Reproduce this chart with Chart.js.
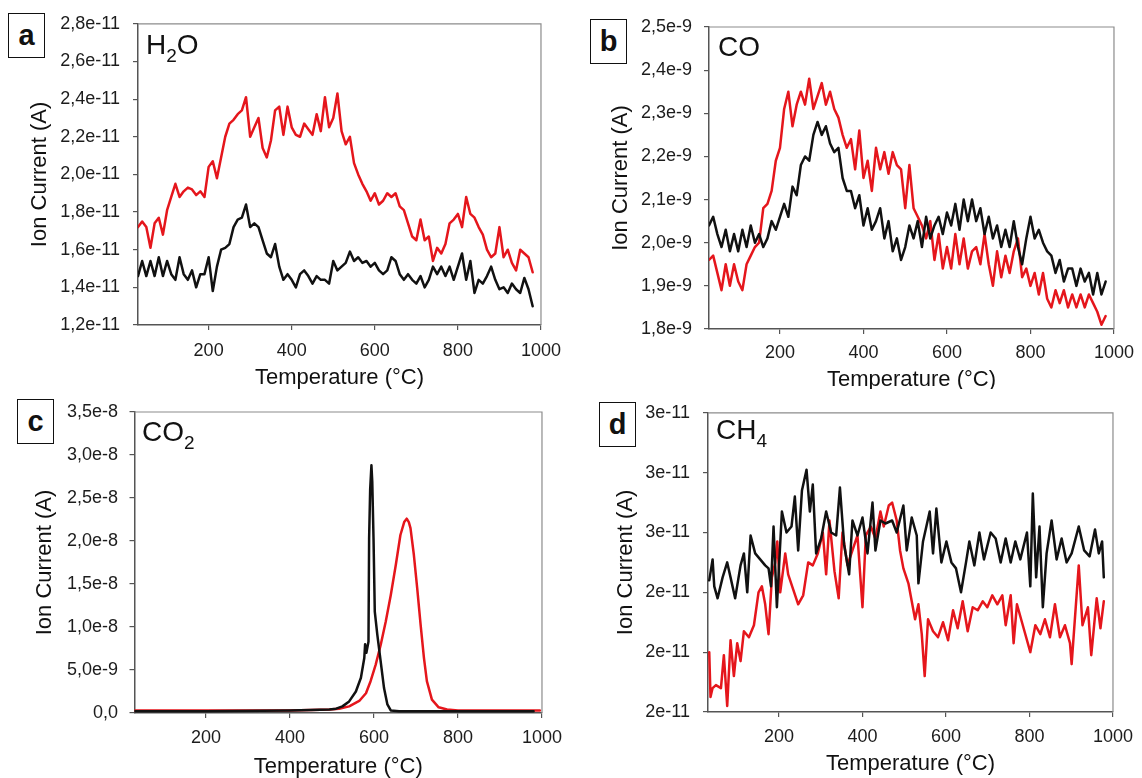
<!DOCTYPE html>
<html>
<head>
<meta charset="utf-8">
<title>Ion current vs temperature</title>
<script src="https://cdn.jsdelivr.net/npm/chart.js@4.4.1/dist/chart.umd.min.js"></script>
<style>
  html, body { margin: 0; padding: 0; background: #fff; }
  body { width: 1142px; height: 778px; position: relative; overflow: hidden;
         font-family: "Liberation Sans", Arial, sans-serif; color: #111; }
  .panel { position: absolute; width: 571px; height: 389px; }
  .panel canvas { display: block; }
  .tag { position: absolute; width: 35px; height: 43px; border: 1.5px solid #111; background: #fff;
         font-weight: bold; font-size: 29px; line-height: 43px; text-align: center; z-index: 2; }
  .species { position: absolute; font-size: 28px; line-height: 28px; white-space: nowrap; z-index: 2; }
  .species .sub { font-size: 19px; position: relative; top: 8px; }
</style>
</head>
<body>
<div class="panel" style="left:0;top:0"><canvas id="chartH2O"></canvas></div>
<div class="panel" style="left:571px;top:0"><canvas id="chartCO"></canvas></div>
<div class="panel" style="left:0;top:389px"><canvas id="chartCO2"></canvas></div>
<div class="panel" style="left:571px;top:389px"><canvas id="chartCH4"></canvas></div>

<div class="tag" style="left:8px;top:13px">a</div>
<div class="tag" style="left:590px;top:19px">b</div>
<div class="tag" style="left:17px;top:399px">c</div>
<div class="tag" style="left:599px;top:402px">d</div>

<div class="species" style="left:146px;top:31px">H<span class="sub">2</span>O</div>
<div class="species" style="left:718px;top:33px">CO</div>
<div class="species" style="left:142px;top:418px">CO<span class="sub">2</span></div>
<div class="species" style="left:716px;top:416px">CH<span class="sub">4</span></div>

<script>
// ---- temperature grid (°C) shared by the H2O and CO traces ----
const temps10 = [30,40,50,60,70,80,90,100,110,120,130,140,150,160,170,180,190,200,210,220,
  230,240,250,260,270,280,290,300,310,320,330,340,350,360,370,380,390,400,410,420,
  430,440,450,460,470,480,490,500,510,520,530,540,550,560,570,580,590,600,610,620,
  630,640,650,660,670,680,690,700,710,720,730,740,750,760,770,780,790,800,810,820,
  830,840,850,860,870,880,890,900,910,920,930,940,950,960,970,980];

// ---- H2O ion current, units of 1e-11 A ----
const h2oRed = [1.72,1.75,1.72,1.61,1.74,1.77,1.68,1.81,1.88,1.95,
  1.88,1.91,1.93,1.92,1.89,1.91,1.88,2.04,2.07,1.98,
  2.09,2.20,2.27,2.29,2.32,2.34,2.41,2.20,2.25,2.30,
  2.14,2.09,2.18,2.34,2.36,2.21,2.36,2.25,2.21,2.20,
  2.27,2.24,2.21,2.32,2.23,2.41,2.25,2.30,2.43,2.23,
  2.16,2.20,2.06,2.00,1.95,1.91,1.86,1.90,1.84,1.86,
  1.90,1.88,1.90,1.83,1.81,1.74,1.67,1.65,1.76,1.65,
  1.67,1.54,1.61,1.58,1.63,1.74,1.76,1.79,1.72,1.88,
  1.79,1.77,1.72,1.68,1.60,1.56,1.58,1.72,1.56,1.60,
  1.53,1.49,1.60,1.58,1.56,1.48];
const h2oBlack = [1.46,1.54,1.46,1.54,1.46,1.56,1.46,1.54,1.47,1.44,
  1.56,1.47,1.44,1.49,1.40,1.47,1.47,1.56,1.38,1.51,
  1.60,1.61,1.63,1.72,1.76,1.77,1.84,1.72,1.74,1.72,
  1.65,1.58,1.56,1.63,1.51,1.44,1.47,1.44,1.40,1.47,
  1.49,1.46,1.42,1.46,1.44,1.44,1.42,1.54,1.49,1.51,
  1.53,1.59,1.54,1.56,1.53,1.54,1.51,1.53,1.49,1.47,
  1.49,1.56,1.54,1.47,1.44,1.47,1.44,1.42,1.46,1.40,
  1.44,1.51,1.47,1.51,1.46,1.51,1.44,1.51,1.58,1.44,
  1.54,1.37,1.44,1.42,1.46,1.51,1.44,1.39,1.40,1.37,
  1.42,1.39,1.37,1.45,1.39,1.30];
const h2oTickValues = [1.2,1.4,1.6,1.8,2.0,2.2,2.4,2.6,2.8];
const h2oTickLabels = ['1,2e-11','1,4e-11','1,6e-11','1,8e-11','2,0e-11','2,2e-11','2,4e-11','2,6e-11','2,8e-11'];

// ---- CO ion current, units of 1e-9 A ----
const coRed = [1.96,1.97,1.93,1.89,1.95,1.90,1.95,1.91,1.89,1.95,
  1.97,1.99,2.00,2.08,2.09,2.12,2.19,2.22,2.31,2.35,
  2.27,2.32,2.35,2.32,2.38,2.31,2.34,2.37,2.32,2.35,
  2.31,2.29,2.25,2.22,2.24,2.17,2.26,2.15,2.19,2.12,
  2.22,2.17,2.21,2.16,2.21,2.18,2.17,2.08,2.18,2.08,
  2.06,2.04,2.01,2.05,1.96,2.02,1.94,1.99,1.94,2.02,
  1.95,2.01,1.94,1.98,1.99,1.95,2.02,1.95,1.90,1.98,
  1.92,1.97,1.93,1.98,2.01,1.92,1.94,1.90,1.93,1.88,
  1.93,1.87,1.85,1.89,1.86,1.89,1.85,1.88,1.85,1.88,
  1.85,1.88,1.86,1.84,1.81,1.83];
const coBlack = [2.04,2.06,2.02,1.99,2.03,1.98,2.02,1.98,2.03,1.99,
  2.04,2.00,2.02,1.99,2.01,2.05,2.03,2.06,2.09,2.06,
  2.13,2.11,2.18,2.20,2.19,2.25,2.28,2.25,2.27,2.23,
  2.21,2.22,2.15,2.12,2.12,2.08,2.11,2.04,2.08,2.03,
  2.05,2.08,2.01,2.05,1.98,2.01,1.96,1.99,2.04,2.01,
  2.05,1.99,2.06,2.01,2.04,2.06,2.02,2.07,2.04,2.09,
  2.03,2.10,2.05,2.10,2.05,2.08,2.02,2.06,2.01,2.04,
  1.99,2.03,1.99,2.05,1.99,1.95,2.01,2.06,2.01,2.03,
  2.00,1.98,1.97,1.93,1.96,1.91,1.94,1.94,1.90,1.94,
  1.91,1.93,1.88,1.93,1.88,1.91];
const coTickValues = [1.8,1.9,2.0,2.1,2.2,2.3,2.4,2.5];
const coTickLabels = ['1,8e-9','1,9e-9','2,0e-9','2,1e-9','2,2e-9','2,3e-9','2,4e-9','2,5e-9'];

// ---- CO2 ion current, units of 1e-8 A ----
const co2BlackT = [30,200,400,450,494,510,525,541,557,569,577,579,582,587,588.5,591,594,596,599,602,608,616,624,632,640,660,800,980];
const co2Black  = [0.02,0.02,0.03,0.035,0.04,0.05,0.077,0.135,0.25,0.41,0.64,0.80,0.70,0.83,2.03,2.60,2.88,2.69,2.03,1.18,0.91,0.60,0.29,0.10,0.03,0.02,0.02,0.02];
const co2RedT = [30,300,400,450,494,517,541,565,581,592,604,616,628,640,652,663,672,678,683,687,695,703,711,719,726,738,754,774,800,900,995];
const co2Red  = [0.03,0.03,0.03,0.035,0.04,0.05,0.077,0.14,0.23,0.37,0.56,0.79,1.06,1.37,1.72,2.07,2.22,2.26,2.22,2.15,1.84,1.45,1.03,0.64,0.37,0.155,0.066,0.04,0.03,0.03,0.03];
const co2TickValues = [0,0.5,1.0,1.5,2.0,2.5,3.0,3.5];
const co2TickLabels = ['0,0','5,0e-9','1,0e-8','1,5e-8','2,0e-8','2,5e-8','3,0e-8','3,5e-8'];

// ---- CH4 ion current, units of 1e-11 A ----
const ch4BlackT = [33,41,45,53,65,76,84,95,108,116,124,132,143,155,167,175,181,187,195,207,
  218,230,238,246,255,266,274,281,289,301,313,325,337,346,356,368,376,388,400,412,
  424,431,443,455,471,482,498,506,518,530,534,545,561,569,577,589,601,613,624,636,
  648,656,668,680,691,707,719,731,743,755,766,778,794,802,808,816,824,832,841,853,
  865,877,889,901,918,931,944,957,966,974,978];
const ch4Black = [2.44,2.51,2.42,2.38,2.45,2.50,2.45,2.38,2.49,2.53,2.40,2.59,2.53,2.51,2.49,2.48,2.42,2.62,2.35,2.67,
  2.60,2.62,2.72,2.54,2.74,2.81,2.67,2.76,2.53,2.58,2.67,2.60,2.59,2.75,2.56,2.46,2.64,2.59,2.65,2.53,
  2.70,2.54,2.64,2.63,2.64,2.60,2.69,2.54,2.65,2.59,2.43,2.57,2.67,2.53,2.68,2.50,2.57,2.50,2.48,2.40,
  2.50,2.57,2.49,2.60,2.51,2.60,2.58,2.50,2.58,2.50,2.57,2.51,2.60,2.42,2.73,2.45,2.62,2.35,2.53,2.64,
  2.51,2.58,2.50,2.53,2.62,2.54,2.52,2.61,2.53,2.57,2.45];
const ch4RedT = [33,36,41,49,61,68,76,84,92,100,108,116,128,140,151,159,167,175,183,191,
  196,203,215,222,234,246,258,270,281,293,305,313,321,333,343,352,364,376,388,400,
  408,420,431,443,451,463,471,482,490,498,510,518,526,534,542,549,557,569,581,593,
  605,617,628,640,652,664,676,688,699,711,723,735,743,755,762,770,786,802,814,826,
  837,849,861,873,885,897,901,918,927,940,948,961,970,978];
const ch4Red = [2.20,2.05,2.08,2.09,2.08,2.19,2.02,2.24,2.12,2.23,2.17,2.27,2.25,2.29,2.40,2.42,2.36,2.26,2.45,2.50,
  2.57,2.40,2.53,2.46,2.41,2.36,2.39,2.50,2.49,2.53,2.60,2.46,2.64,2.47,2.38,2.60,2.49,2.54,2.59,2.35,
  2.59,2.62,2.58,2.67,2.62,2.69,2.70,2.64,2.54,2.48,2.43,2.37,2.31,2.36,2.26,2.12,2.31,2.27,2.25,2.30,
  2.24,2.34,2.28,2.37,2.27,2.35,2.34,2.37,2.35,2.39,2.36,2.39,2.29,2.39,2.23,2.36,2.28,2.20,2.29,2.26,
  2.31,2.25,2.36,2.25,2.29,2.23,2.16,2.49,2.29,2.35,2.19,2.38,2.28,2.37];
const ch4TickValues = [2.0,2.2,2.4,2.6,2.8,3.0];
const ch4TickLabels = ['2e-11','2e-11','2e-11','3e-11','3e-11','3e-11'];

const tempTicks = [200,400,600,800,1000];

// ---- drawing ----
const FONT = '"Liberation Sans", Arial, sans-serif';
const RED = '#e5161c';
const BLACK = '#111111';
const CW = 571, CH = 389;

// grey frame along the top and right of each plot area
const framePlugin = {
  id: 'frame',
  beforeDatasetsDraw(chart) {
    const { ctx, chartArea: a } = chart;
    ctx.save();
    ctx.strokeStyle = '#8c8c8c';
    ctx.lineWidth = 1.2;
    ctx.beginPath();
    ctx.moveTo(a.left, a.top);
    ctx.lineTo(a.right, a.top);
    ctx.lineTo(a.right, a.bottom);
    ctx.stroke();
    ctx.restore();
  }
};

function series(t, v, color) {
  return {
    data: t.map((x, i) => ({ x: x, y: v[i] })),
    borderColor: color, borderWidth: 2.5, pointRadius: 0, tension: 0, fill: false,
    borderJoinStyle: 'round', borderCapStyle: 'round'
  };
}

function makePanel(id, p) {
  const canvas = document.getElementById(id);
  canvas.width = CW; canvas.height = CH;
  return new Chart(canvas, {
    type: 'line',
    data: { datasets: p.datasets },
    options: {
      responsive: false, animation: false, devicePixelRatio: 1,
      layout: { padding: { left: 0, top: p.top, right: CW - p.right, bottom: 0 } },
      plugins: { legend: { display: false }, tooltip: { enabled: false } },
      scales: {
        x: {
          type: 'linear', min: 30, max: 1000,
          afterBuildTicks: s => { s.ticks = tempTicks.map(v => ({ value: v })); },
          afterFit: s => { s.height = CH - p.bottom; },
          ticks: { autoSkip: false, maxRotation: 0, padding: p.xTickPad, color: '#1c1c1c',
                   font: { family: FONT, size: 18 }, callback: v => String(v) },
          grid: { display: true, drawOnChartArea: false, drawTicks: true, tickLength: 5, color: '#555', lineWidth: 1.2 },
          border: { display: true, color: '#555', width: 1.5 },
          title: { display: true, text: 'Temperature (°C)', color: '#111',
                   font: { family: FONT, size: 22, lineHeight: 0.6 },
                   padding: { top: 0, bottom: p.xTitlePad } }
        },
        y: {
          type: 'linear', min: p.yTicks[0], max: p.yTicks[p.yTicks.length - 1],
          afterBuildTicks: s => { s.ticks = p.yTicks.map(v => ({ value: v })); },
          afterFit: s => { s.width = p.left; },
          ticks: { autoSkip: false, padding: p.yTickPad, color: '#1c1c1c',
                   font: { family: FONT, size: 18 }, callback: (v, i) => p.yLabels[i] },
          grid: { display: true, drawOnChartArea: false, drawTicks: true, tickLength: 5, color: '#555', lineWidth: 1.2 },
          border: { display: true, color: '#555', width: 1.5 },
          title: { display: true, text: 'Ion Current (A)', color: '#111',
                   font: { family: FONT, size: 22, lineHeight: 1 },
                   padding: { top: p.yTitlePad, bottom: 0 } }
        }
      }
    },
    plugins: [framePlugin]
  });
}

makePanel('chartH2O', {
  left: 138, right: 548, top: 23, bottom: 325,
  xTickPad: 10, xTitlePad: 4.4, yTickPad: 13, yTitlePad: 29,
  yTicks: h2oTickValues, yLabels: h2oTickLabels,
  datasets: [series(temps10, h2oBlack, BLACK), series(temps10, h2oRed, RED)]
});

makePanel('chartCO', {
  left: 138, right: 547, top: 27, bottom: 329,
  xTickPad: 8, xTitlePad: 2.4, yTickPad: 12, yTitlePad: 39,
  yTicks: coTickValues, yLabels: coTickLabels,
  datasets: [series(temps10, coBlack, BLACK), series(temps10, coRed, RED)]
});

makePanel('chartCO2', {
  left: 134.5, right: 544, top: 23, bottom: 324,
  xTickPad: 9, xTitlePad: 4.4, yTickPad: 11.5, yTitlePad: 34,
  yTicks: co2TickValues, yLabels: co2TickLabels,
  datasets: [series(co2BlackT, co2Black, BLACK), series(co2RedT, co2Red, RED)]
});

makePanel('chartCH4', {
  left: 137, right: 546, top: 19, bottom: 323,
  xTickPad: 9, xTitlePad: 7.4, yTickPad: 13, yTitlePad: 43.5,
  yTicks: ch4TickValues, yLabels: ch4TickLabels,
  datasets: [series(ch4BlackT, ch4Black, BLACK), series(ch4RedT, ch4Red, RED)]
});
</script>
</body>
</html>
